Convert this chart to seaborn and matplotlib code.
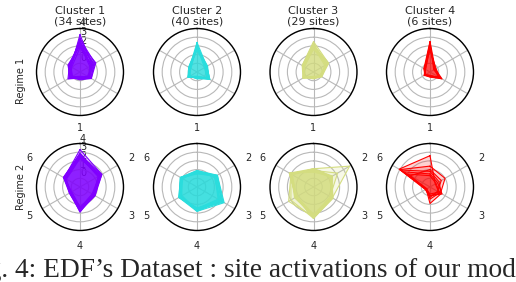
import numpy as np
import pandas as pd
import matplotlib
matplotlib.use("Agg")
import matplotlib.pyplot as plt
import seaborn as sns

sns.set_theme(style="white")
plt.rcParams['font.family'] = ['DejaVu Sans']

axis_labels = ["1", "2", "3", "4", "5", "6"]
cluster_titles = ["Cluster 1\n(34 sites)", "Cluster 2\n(40 sites)",
                  "Cluster 3\n(29 sites)", "Cluster 4\n(6 sites)"]
regime_labels = ["Regime 1", "Regime 2"]
r_ticks = [0, 1, 2, 3, 4]
caption = "Fig. 4: EDF\u2019s Dataset : site activations of our model"

# site activation profiles (axes 1..6), per cluster, per regime
c1_r1 = [[3.3, 0.6, 0.2, -0.3, 0.0, 0.2], [2.8, 1.0, 0.4, -0.2, 0.2, 0.3],
         [2.5, 0.8, 0.5, -0.4, 0.4, 0.5], [2.2, 0.5, 0.3, -0.3, 0.6, 0.4],
         [2.0, 0.9, 0.1, -0.2, 0.3, 0.6], [2.6, 0.4, 0.2, -0.5, 0.1, 0.2],
         [1.8, 0.6, 0.4, -0.3, 0.5, 0.1], [2.3, 1.1, 0.5, -0.1, 0.2, 0.4],
         [2.9, 0.7, 0.0, -0.4, 0.3, 0.3], [2.1, 0.3, 0.3, -0.2, 0.4, 0.5]]
c2_r1 = [[2.4, 0.3, 0.7, -0.4, 0.2, 0.0], [2.0, 0.2, 0.5, -0.3, 0.1, -0.1],
         [1.8, 0.4, 0.6, -0.5, 0.0, 0.1], [2.2, 0.1, 0.4, -0.4, 0.2, -0.2],
         [1.5, 0.3, 0.7, -0.3, 0.1, 0.0], [1.9, 0.0, 0.3, -0.5, 0.2, 0.1],
         [2.1, 0.2, 0.5, -0.2, -0.1, -0.1], [1.6, 0.3, 0.6, -0.4, 0.0, 0.0]]
c3_r1 = [[2.5, 1.0, -0.1, -0.4, 0.4, 0.5], [2.2, 0.8, 0.0, -0.3, 0.3, 0.3],
         [2.0, 0.9, -0.2, -0.4, 0.2, 0.4], [1.8, 0.7, 0.1, -0.5, 0.4, 0.2],
         [2.3, 0.6, 0.0, -0.3, 0.1, 0.5], [1.6, 0.8, -0.1, -0.4, 0.3, 0.3],
         [2.1, 1.0, 0.1, -0.2, 0.2, 0.4], [1.9, 0.5, -0.1, -0.4, 0.4, 0.2]]
c4_r1 = [[2.5, -0.3, 0.6, -0.5, -0.3, -0.2], [2.2, -0.4, 0.4, -0.6, -0.4, -0.3],
         [1.8, -0.3, 0.2, -0.5, -0.2, -0.4], [2.4, -0.5, 0.5, -0.4, -0.3, -0.3],
         [1.5, -0.2, 0.3, -0.6, -0.4, -0.2], [2.0, -0.4, 0.1, -0.5, -0.3, -0.4]]
c1_r2 = [[3.3, 1.9, 0.9, 1.6, 0.3, 1.1], [2.6, 1.7, 0.8, 1.4, 0.2, 1.0],
         [2.8, 1.5, 1.0, 1.8, 0.4, 1.2], [2.4, 1.8, 0.7, 1.5, 0.3, 0.9],
         [2.9, 1.6, 0.9, 1.3, 0.1, 1.1], [2.5, 1.4, 0.8, 1.7, 0.4, 1.0],
         [2.7, 1.9, 1.0, 1.5, 0.2, 1.2], [2.3, 1.6, 0.6, 1.4, 0.3, 0.8],
         [2.8, 1.7, 0.9, 1.6, 0.2, 1.0], [2.6, 1.5, 0.8, 1.9, 0.3, 1.1]]
c2_r2 = [[0.9, 1.7, 2.6, 1.8, 1.4, 1.2], [0.7, 1.5, 2.0, 1.6, 1.2, 1.0],
         [0.8, 1.6, 2.3, 1.7, 1.3, 1.1], [0.6, 1.4, 1.8, 1.5, 1.4, 1.2],
         [0.9, 1.3, 2.1, 1.8, 1.1, 0.9], [0.7, 1.7, 2.4, 1.4, 1.3, 1.0],
         [0.8, 1.5, 1.9, 1.6, 1.2, 1.2], [0.5, 1.6, 2.2, 1.7, 1.0, 1.1],
         [0.8, 1.4, 2.0, 1.5, 1.4, 1.0], [0.7, 1.5, 2.5, 1.6, 1.2, 1.1]]
c3_r2 = [[1.1, 3.8, 1.5, 2.6, 1.3, 2.2], [1.0, 1.4, 1.4, 2.4, 2.3, 2.0],
         [0.9, 1.3, 1.5, 2.5, 1.4, 2.1], [1.1, 1.5, 1.3, 2.2, 1.2, 1.9],
         [0.8, 1.4, 1.6, 2.6, 1.3, 2.2], [1.0, 1.2, 1.4, 2.3, 1.5, 2.0],
         [0.9, 2.2, 1.2, 2.4, 1.2, 2.1], [1.1, 1.3, 1.5, 2.1, 1.4, 1.8],
         [0.7, 1.5, 1.3, 2.5, 1.3, 2.2], [1.0, 1.4, 1.4, 2.6, 2.0, 2.0]]
c4_r2 = [[2.6, -0.3, 0.2, -0.2, -0.5, 3.1], [1.4, 1.0, 0.4, 0.0, -0.4, 3.0],
         [0.8, 0.2, 0.5, 0.9, -0.5, 2.9], [0.3, -0.2, 0.3, 0.4, -0.6, 2.0],
         [1.0, 0.5, 0.0, 0.2, -0.4, 1.6], [0.5, 0.0, 0.6, 0.0, -0.5, 2.5]]

profiles = [[c1_r1, c2_r1, c3_r1, c4_r1], [c1_r2, c2_r2, c3_r2, c4_r2]]
colors = [tuple(c) for c in plt.cm.rainbow(np.linspace(0, 1, 4))]

W, H = 516, 282
fig = plt.figure(figsize=(W / 100, H / 100), dpi=100)
cxs = [80, 197, 313.5, 430]
cys = [72, 187]
R = 43.5
n = len(axis_labels)
theta = np.arange(n) * 2 * np.pi / n
theta_closed = np.append(theta, 2 * np.pi)

for row in range(2):
    for col in range(4):
        cx, cy = cxs[col], cys[row]
        ax = fig.add_axes([(cx - R) / W, 1 - (cy + R) / H, 2 * R / W, 2 * R / H],
                          projection='polar')
        ax.set_theta_zero_location('N')
        ax.set_theta_direction(-1)
        recs = []
        for s, vals in enumerate(profiles[row][col]):
            vc = list(vals) + [vals[0]]
            for t, v in zip(theta_closed, vc):
                recs.append({'site': s, 'theta': t, 'r': v})
            ax.fill(theta_closed, vc, color=colors[col], alpha=0.18, lw=0, zorder=3)
        df = pd.DataFrame(recs)
        sns.lineplot(data=df, x='theta', y='r', units='site', estimator=None,
                     sort=False, color=colors[col], lw=0.8, ax=ax, legend=False,
                     zorder=3)
        ax.set_xlabel('')
        ax.set_ylabel('')
        ax.set_ylim(-1, 4)
        ax.set_yticks(r_ticks)
        ax.set_rlabel_position(0)
        if col == 0:
            ax.set_yticklabels([str(t) for t in r_ticks], fontsize=7)
        else:
            ax.set_yticklabels([])
        ax.set_xticks(theta)
        ax.tick_params(axis='x', size=0, pad=4)
        if row == 1:
            ax.set_xticklabels(axis_labels, fontsize=7)
        else:
            ax.set_xticklabels([])
        ax.grid(True, color='#b8b8b8', lw=0.8)
        ax.spines['polar'].set_color('black')
        ax.spines['polar'].set_linewidth(1.0)
        if row == 0:
            ax.set_title(cluster_titles[col], fontsize=8, pad=3, linespacing=1.1)
        if col == 0:
            ax.set_ylabel(regime_labels[row], fontsize=7)
            ax.yaxis.set_label_coords(-0.12, 0.4 if row == 0 else 0.5)

fig.text(-35 / W, (H - 277) / H, caption, family='Liberation Serif',
         fontsize=19.7, va='baseline', ha='left')

fig.savefig('out.png', dpi=100)
